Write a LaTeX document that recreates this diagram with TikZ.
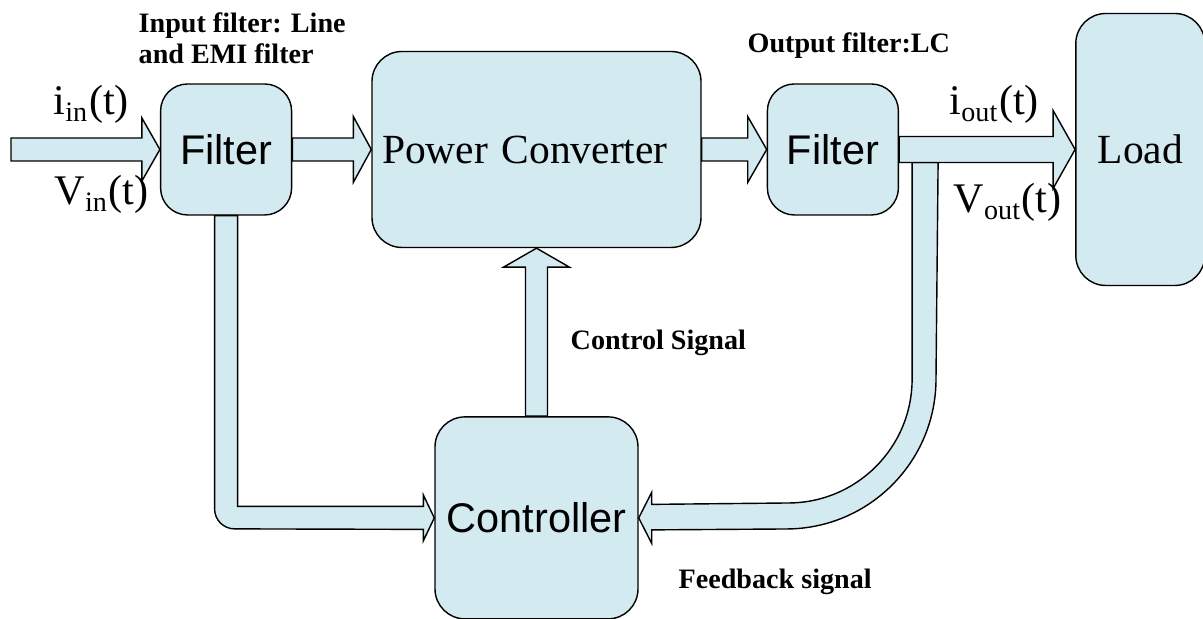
\documentclass[tikz,border=0pt]{standalone}
\usepackage{fontspec}
\setmainfont{Liberation Serif}
\newfontfamily\arialfont{Liberation Sans}
\usetikzlibrary{calc,positioning}

\definecolor{boxblue}{RGB}{210,234,240}

% straight block arrow: tail, tip, half shaft width, half head width, head length
\newcommand{\blockarrow}[5]{%
  \path ($(#2)!#5!(#1)$) coordinate (hb);
  \draw[flow] ($(#1)!#3!90:(#2)$) -- ($(hb)!#3!-90:(#1)$) -- ($(hb)!#4!-90:(#1)$)
    -- (#2) -- ($(hb)!#4!90:(#1)$) -- ($(hb)!#3!90:(#1)$) -- ($(#1)!#3!-90:(#2)$) -- cycle;}

\begin{document}
\begin{tikzpicture}[line width=0.4pt,
  block/.style={draw, fill=boxblue, inner sep=0pt, rounded corners=0.3cm},
  sansbox/.style={block, font=\arialfont\fontsize{11.8}{14}\selectfont},
  serifbox/.style={block, font=\fontsize{11.8}{14}\selectfont},
  flow/.style={draw, fill=boxblue},
  note/.style={font=\bfseries\fontsize{8}{8.8}\selectfont, inner sep=0pt},
  sig/.style={font=\fontsize{12}{14}\selectfont, inner sep=0pt}]

  \useasboundingbox (0,0) rectangle (12.03,6.19);

  % blocks
  \node[serifbox, minimum width=3.29cm, minimum height=1.96cm, text width=3.09cm, align=left] (conv) at (5.365,4.695) {Power Converter};
  \node[sansbox, rounded corners=0.27cm, minimum size=1.31cm, left=0.79cm of conv] (infilter) {Filter};
  \node[sansbox, rounded corners=0.27cm, minimum size=1.31cm, right=0.65cm of conv] (outfilter) {Filter};
  \node[serifbox, minimum width=1.29cm, minimum height=2.72cm, right=1.76cm of outfilter] (load) {Load};
  \node[sansbox, minimum width=2.03cm, minimum height=2.02cm, below=1.68cm of conv] (ctrl) {Controller};

  \coordinate (src) at (0.11,4.695);
  \coordinate (outtip) at (load.west |- outfilter.east);
  \coordinate (cs) at (conv.south |- ctrl.north);
  \coordinate (fbin) at ($(outfilter.east)+(0.13,-0.13)$);
  \coordinate (fbc) at (7.86,2.40);

  % input filter to controller
  \draw[flow] ($(infilter.south)+(-0.115,0)$) -- ($(infilter.south |- ctrl.west)+(-0.115,0.09)$)
    arc[start angle=180, end angle=270, radius=0.2]
    -- ($(ctrl.west)+(-0.11,-0.115)$) -- ++(0,-0.115) -- (ctrl.west) -- ++(-0.11,0.23) -- ++(0,-0.115)
    -- ($(infilter.south |- ctrl.west)+(0.115,0.115)$) -- ($(infilter.south)+(0.115,0)$) -- cycle;

  % feedback from the output
  \draw[flow] (fbin) -- (fbin |- fbc) arc[start angle=0, end angle=-90, radius=1.24]
    -- ($(ctrl.east)+(0.13,0.135)$) -- ++(0,0.12) -- (ctrl.east) -- ++(0.13,-0.255) -- ++(0,0.135)
    -- ($(fbc)+(0,-1.5)$) arc[start angle=-90, end angle=0, radius=1.5] -- ($(fbin)+(0.26,0)$) -- cycle;

  % power path
  \blockarrow{src}{infilter.west}{0.115cm}{0.315cm}{0.18cm}
  \blockarrow{infilter.east}{conv.west}{0.115cm}{0.33cm}{0.18cm}
  \blockarrow{conv.east}{outfilter.west}{0.115cm}{0.33cm}{0.19cm}
  \blockarrow{outfilter.east}{outtip}{0.13cm}{0.39cm}{0.22cm}
  \blockarrow{cs}{conv.south}{0.11cm}{0.33cm}{0.19cm}

  % signals
  \node[sig, anchor=base west] (iin) at (0.53,5.04) {i\textsubscript{in}(t)};
  \node[sig, anchor=base west] (vin) at (0.54,4.14) {V\textsubscript{in}(t)};
  \node[sig, anchor=base west] (iout) at (9.49,5.04) {i\textsubscript{out}(t)};
  \node[sig, anchor=base west] (vout) at (9.53,4.06) {V\textsubscript{out}(t)};

  % notes
  \node[note, anchor=north west, align=left] (innote) at (1.38,6.07) {Input filter: Line\\and EMI filter};
  \node[note, anchor=base west] (outnote) at (7.47,5.66) {Output filter:LC};
  \node[note, anchor=base west] (csnote) at (5.70,2.69) {Control Signal};
  \node[note, anchor=base west] (fbnote) at (6.78,0.30) {Feedback signal};

\end{tikzpicture}
\end{document}
